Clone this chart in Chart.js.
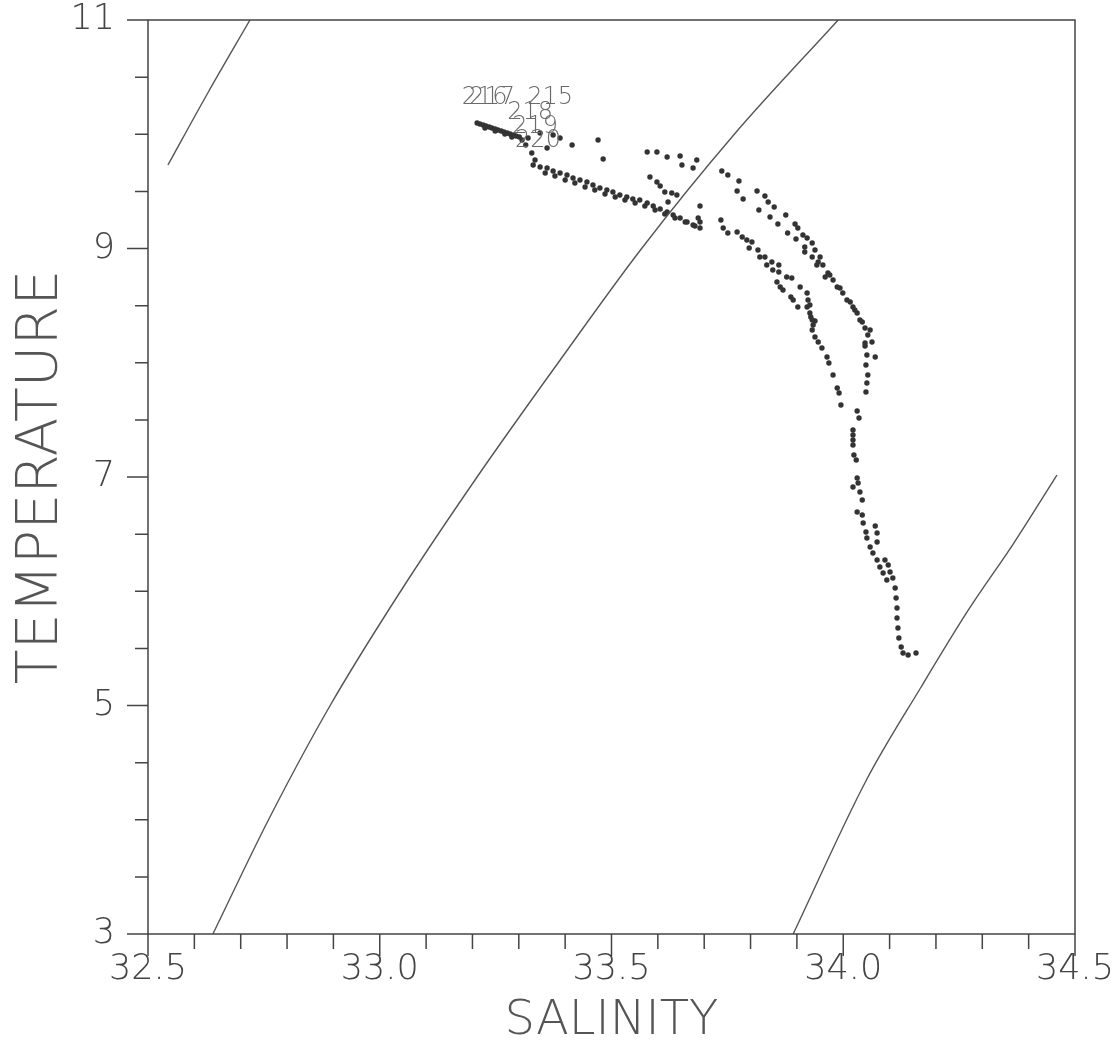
<!DOCTYPE html>
<html>
<head>
<meta charset="utf-8">
<script src="https://cdn.jsdelivr.net/npm/chart.js@4"></script>
<style>
	body { margin: 0; background: #fff; }
	#wrap { width: 1115px; height: 1057px; }
</style>
</head>
<body>
<div id="wrap"><canvas id="tsChart"></canvas></div>
<script>
// T-S diagram: salinity vs temperature, CTD casts plus density (sigma-t) curves

// axis ticks
const xTicks = [32.5, 32.6, 32.7, 32.8, 32.9, 33.0, 33.1, 33.2, 33.3, 33.4, 33.5, 33.6, 33.7, 33.8, 33.9, 34.0, 34.1, 34.2, 34.3, 34.4, 34.5];
const xLabelled = [32.5, 33.0, 33.5, 34.0, 34.5];
const yTicks = [3, 3.5, 4, 4.5, 5, 5.5, 6, 6.5, 7, 7.5, 8, 8.5, 9, 9.5, 10, 10.5, 11];
const yLabelled = [3, 5, 7, 9, 11];

// station labels (at surface end of each cast)
const stationNames = ["216", "217", "215", "218", "219", "220"];
const stationS = [33.177, 33.193, 33.318, 33.275, 33.286, 33.292];
const stationT = [10.265, 10.265, 10.265, 10.135, 10.010, 9.885];

// surface layer, thick run near the labels
const surfacePts = [
	[33.210, 10.098], [33.216, 10.090], [33.223, 10.081], [33.229, 10.072], [33.236, 10.063],
	[33.242, 10.055], [33.249, 10.046], [33.255, 10.037], [33.262, 10.028], [33.268, 10.020],
	[33.275, 10.011], [33.281, 10.002], [33.288, 9.993], [33.294, 9.985], [33.301, 9.976],
	[33.227, 10.055], [33.249, 10.028], [33.270, 10.002], [33.285, 9.976],
	[33.307, 9.950], [33.320, 9.967], [33.346, 10.011], [33.374, 9.993], [33.389, 9.967],
	[33.415, 9.906], [33.361, 9.880], [33.328, 9.836], [33.335, 9.775], [33.315, 9.906],
	[33.471, 9.950], [33.482, 9.783]
];

// shelf line running down to ~33.7
const shelfA = [
	[33.331, 9.731], [33.346, 9.713], [33.361, 9.705], [33.374, 9.678], [33.389, 9.661],
	[33.404, 9.643], [33.417, 9.617], [33.432, 9.600], [33.447, 9.582], [33.460, 9.556],
	[33.475, 9.529], [33.490, 9.512], [33.503, 9.494], [33.518, 9.468], [33.533, 9.451],
	[33.546, 9.433], [33.561, 9.424], [33.577, 9.398], [33.590, 9.372], [33.605, 9.346],
	[33.620, 9.319], [33.633, 9.293], [33.648, 9.267], [33.663, 9.232], [33.676, 9.206],
	[33.691, 9.179]
];
const shelfB = [
	[33.357, 9.661], [33.378, 9.635], [33.400, 9.600], [33.421, 9.573], [33.443, 9.538],
	[33.464, 9.512], [33.486, 9.477], [33.508, 9.451], [33.529, 9.424], [33.551, 9.398],
	[33.572, 9.372], [33.594, 9.337], [33.615, 9.302], [33.637, 9.267], [33.659, 9.232],
	[33.680, 9.197]
];

// loose points between shelf line and the density curve
const loosePts = [
	[33.577, 9.845], [33.598, 9.845], [33.620, 9.801], [33.648, 9.810], [33.652, 9.731],
	[33.684, 9.775], [33.676, 9.705], [33.583, 9.626], [33.598, 9.582], [33.605, 9.547],
	[33.615, 9.494], [33.630, 9.486], [33.641, 9.468], [33.622, 9.407], [33.691, 9.372],
	[33.687, 9.267], [33.691, 9.232]
];

// inner (left) deep branch
const leftBranch = [
	[33.736, 9.249], [33.741, 9.179], [33.751, 9.136], [33.771, 9.144], [33.782, 9.101],
	[33.792, 9.074], [33.803, 9.057], [33.797, 9.004], [33.816, 8.987], [33.820, 8.926],
	[33.831, 8.926], [33.846, 8.882], [33.835, 8.856], [33.861, 8.856], [33.848, 8.812],
	[33.861, 8.794], [33.878, 8.750], [33.889, 8.742], [33.857, 8.707], [33.864, 8.663],
	[33.870, 8.637], [33.887, 8.575], [33.907, 8.663], [33.922, 8.610], [33.924, 8.549],
	[33.892, 8.549], [33.902, 8.488], [33.922, 8.488], [33.928, 8.435], [33.933, 8.374],
	[33.939, 8.365], [33.933, 8.287], [33.939, 8.225], [33.946, 8.182], [33.954, 8.129],
	[33.928, 8.506], [33.930, 8.400], [33.935, 8.330],
	[33.965, 8.050], [33.969, 7.998], [33.978, 7.893], [33.987, 7.779], [33.991, 7.735],
	[33.995, 7.630]
];

// outer (right) deep branch
const rightBranch = [
	[33.738, 9.678], [33.751, 9.643], [33.775, 9.591], [33.771, 9.503], [33.784, 9.433],
	[33.814, 9.503], [33.831, 9.459], [33.838, 9.407], [33.851, 9.363], [33.818, 9.337],
	[33.842, 9.276], [33.859, 9.214], [33.876, 9.293], [33.896, 9.214], [33.902, 9.179],
	[33.880, 9.136], [33.898, 9.083], [33.913, 9.118], [33.922, 9.092], [33.933, 9.048],
	[33.917, 9.013], [33.939, 8.987], [33.933, 8.926], [33.950, 8.926], [33.943, 8.856],
	[33.956, 8.856], [33.967, 8.785], [33.961, 8.750], [33.978, 8.724], [33.987, 8.663],
	[33.999, 8.610], [34.008, 8.549], [34.021, 8.488], [34.030, 8.435], [34.036, 8.374],
	[34.047, 8.304], [34.053, 8.243], [34.062, 8.182], [34.047, 8.147],
	[33.917, 8.969], [33.946, 8.882], [33.971, 8.768], [33.993, 8.654], [34.015, 8.532],
	[34.025, 8.462], [34.041, 8.357], [34.058, 8.287],
	[34.047, 8.173], [34.051, 8.068], [34.069, 8.050], [34.049, 7.980], [34.053, 7.893],
	[34.051, 7.823], [34.049, 7.744]
];

// merged deep water down to the bottom
const deepTail = [
	[34.030, 7.578], [34.034, 7.516], [34.021, 7.411], [34.021, 7.368], [34.021, 7.324],
	[34.021, 7.280], [34.023, 7.193], [34.028, 7.149], [34.030, 6.991], [34.032, 6.947],
	[34.021, 6.912], [34.036, 6.869], [34.041, 6.799], [34.030, 6.693], [34.041, 6.667],
	[34.043, 6.597], [34.069, 6.571], [34.049, 6.518], [34.073, 6.510], [34.051, 6.466],
	[34.073, 6.431], [34.058, 6.387], [34.064, 6.335], [34.073, 6.273], [34.090, 6.273],
	[34.079, 6.212], [34.097, 6.230], [34.086, 6.160], [34.101, 6.168], [34.094, 6.098],
	[34.107, 6.116], [34.112, 6.028], [34.114, 5.941], [34.116, 5.853], [34.116, 5.766],
	[34.118, 5.678], [34.120, 5.591], [34.125, 5.512], [34.129, 5.459], [34.140, 5.442],
	[34.157, 5.459]
];

// sigma-t curves
const sigmaLow = [[32.543, 9.731], [32.629, 10.361], [32.720, 11.0]];
const sigmaMid = [
	[32.640, 3.0], [32.760, 4.0], [32.893, 5.0], [33.045, 6.0], [33.210, 7.0],
	[33.385, 8.0], [33.565, 9.0], [33.765, 10.0], [33.989, 11.0]
];
const sigmaHigh = [
	[33.892, 3.0], [34.050, 4.348], [34.168, 5.162], [34.270, 5.836], [34.368, 6.422],
	[34.461, 7.017]
];

const fontFamily = "'DejaVu Sans', 'Liberation Sans', sans-serif";
const inkColor = "#444";

function toXY(arr) {
	return arr.map(p => ({ x: p[0], y: p[1] }));
}

function dots(arr) {
	return {
		data: toXY(arr),
		showLine: false,
		pointRadius: 2.7,
		pointBackgroundColor: "#333",
		pointBorderWidth: 0,
	};
}

function curve(arr) {
	return {
		data: toXY(arr),
		showLine: true,
		pointRadius: 0,
		borderColor: "#555",
		borderWidth: 1.4,
		cubicInterpolationMode: "monotone",
	};
}

// frame, tick marks and station labels
const frameTicks = {
	id: "frameTicks",
	afterDraw(chart) {
		const { ctx, chartArea: a, scales: { x, y } } = chart;
		ctx.save();
		ctx.strokeStyle = inkColor;
		ctx.lineWidth = 1.5;
		ctx.strokeRect(a.left, a.top, a.right - a.left, a.bottom - a.top);
		ctx.beginPath();
		xTicks.forEach(v => {
			const px = x.getPixelForValue(v);
			const len = xLabelled.some(m => Math.abs(m - v) < 1e-6) ? 22 : 15;
			ctx.moveTo(px, a.bottom);
			ctx.lineTo(px, a.bottom + len);
		});
		yTicks.forEach(v => {
			const py = y.getPixelForValue(v);
			const len = yLabelled.includes(v) ? 21 : 13;
			ctx.moveTo(a.left, py);
			ctx.lineTo(a.left - len, py);
		});
		ctx.stroke();

		ctx.fillStyle = "#6a6a6a";
		ctx.font = "200 24px " + fontFamily;
		ctx.textBaseline = "alphabetic";
		stationNames.forEach((name, i) => {
			ctx.fillText(name, x.getPixelForValue(stationS[i]), y.getPixelForValue(stationT[i]));
		});
		ctx.restore();
	}
};

const ctx = document.getElementById("tsChart").getContext("2d");

new Chart(ctx, {
	type: "scatter",
	data: {
		datasets: [
			curve(sigmaLow),
			curve(sigmaMid),
			curve(sigmaHigh),
			dots(surfacePts),
			dots(shelfA),
			dots(shelfB),
			dots(loosePts),
			dots(leftBranch),
			dots(rightBranch),
			dots(deepTail),
		],
	},
	options: {
		responsive: true,
		maintainAspectRatio: false,
		animation: false,
		events: [],
		layout: {
			padding: { top: 20, right: 40, left: 0, bottom: 0 },
		},
		plugins: {
			legend: { display: false },
			tooltip: { enabled: false },
		},
		scales: {
			x: {
				type: "linear",
				min: 32.5,
				max: 34.5,
				afterFit: function (scale) {
					scale.height = 123;
					scale.paddingLeft = 0;
					scale.paddingRight = 0;
				},
				afterBuildTicks: function (scale) {
					scale.ticks = xLabelled.map(v => ({ value: v }));
				},
				grid: { display: false },
				border: { display: false },
				ticks: {
					padding: 7,
					color: inkColor,
					font: { size: 35, family: fontFamily, weight: "200" },
					callback: function (v) { return v.toFixed(1); },
				},
				title: {
					display: true,
					text: "SALINITY",
					color: "#555",
					padding: { top: 0, bottom: 7 },
					font: { size: 48, family: fontFamily, weight: "200" },
				},
			},
			y: {
				type: "linear",
				min: 3,
				max: 11,
				afterFit: function (scale) {
					scale.width = 148;
					scale.paddingTop = 0;
					scale.paddingBottom = 0;
				},
				afterBuildTicks: function (scale) {
					scale.ticks = yLabelled.map(v => ({ value: v }));
				},
				grid: { display: false },
				border: { display: false },
				ticks: {
					padding: 25,
					color: inkColor,
					font: { size: 35, family: fontFamily, weight: "200" },
				},
				title: {
					display: true,
					text: "TEMPERATURE",
					color: "#555",
					padding: { top: 8, bottom: 0 },
					font: { size: 57, family: fontFamily, weight: "200" },
				},
			},
		},
	},
	plugins: [frameTicks],
});
</script>
</body>
</html>
